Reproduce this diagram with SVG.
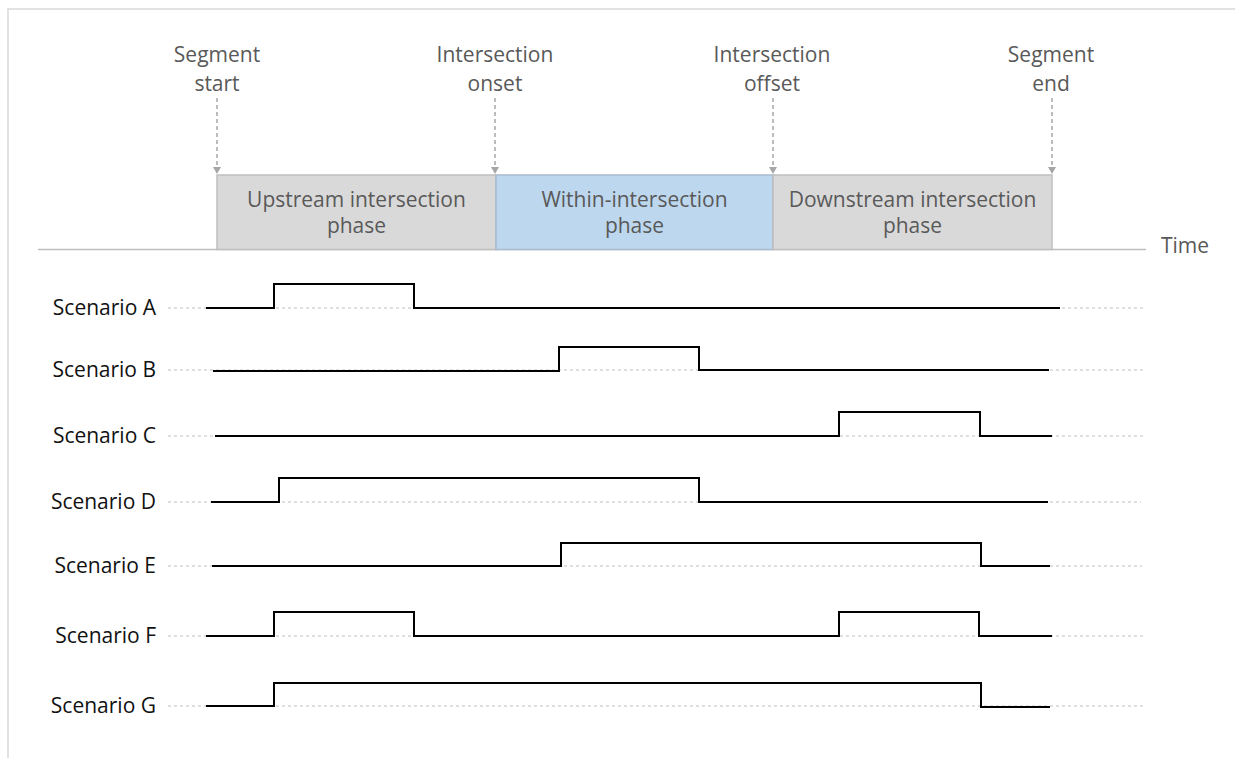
<svg xmlns="http://www.w3.org/2000/svg" width="1235" height="758" viewBox="0 0 1235 758">
<style>
  .lbl { font-family: "Open Sans", "Liberation Sans", sans-serif; font-size: 21px; fill: #595959; text-anchor: middle; }
  .scn { font-family: "Open Sans", "Liberation Sans", sans-serif; font-size: 21px; fill: #111111; text-anchor: end; }
  .box { stroke: #bfbfbf; stroke-width: 1.5; }
  .grey { fill: #d9d9d9; }
  .blue { fill: #bdd7ee; stroke: #a8bcd0; }
  .base { stroke: #bfbfbf; stroke-width: 1.2; stroke-dasharray: 3 3; fill: none; }
  .sig { stroke: #000000; stroke-width: 2; fill: none; stroke-linejoin: miter; }
  .arr { stroke: #a6a6a6; stroke-width: 1.5; stroke-dasharray: 4 3; fill: none; }
</style>
<defs>
  <marker id="tri" markerWidth="8" markerHeight="8" refX="7" refY="4" orient="auto" markerUnits="userSpaceOnUse" viewBox="0 0 8 8">
    <path d="M0,0 L7,4 L0,8 Z" fill="#a6a6a6"/>
  </marker>
</defs>
<rect x="0" y="0" width="1235" height="758" fill="#ffffff"/>
<!-- frame -->
<path d="M8,758 L8,9 L1235,9" fill="none" stroke="#d9d9d9" stroke-width="1.5"/>
<!-- time axis -->
<g id="time-axis">
  <line x1="38" y1="249.5" x2="1146" y2="249.5" stroke="#bfbfbf" stroke-width="1.5"/>
  <text class="lbl" x="1185" y="253">Time</text>
</g>
<!-- phase boxes -->
<g id="phase-upstream">
  <rect class="box grey" x="217" y="175" width="279" height="74.5"/>
  <text class="lbl" x="356.5" y="207">Upstream intersection</text>
  <text class="lbl" x="356.5" y="233">phase</text>
</g>
<g id="phase-within">
  <rect class="box blue" x="496" y="175" width="277" height="74.5"/>
  <text class="lbl" x="634.5" y="207">Within-intersection</text>
  <text class="lbl" x="634.5" y="233">phase</text>
</g>
<g id="phase-downstream">
  <rect class="box grey" x="773" y="175" width="279" height="74.5"/>
  <text class="lbl" x="912.5" y="207">Downstream intersection</text>
  <text class="lbl" x="912.5" y="233">phase</text>
</g>
<!-- event labels -->
<g id="label-segment-start">
  <text class="lbl" x="217" y="62">Segment</text>
  <text class="lbl" x="217" y="91">start</text>
</g>
<g id="label-intersection-onset">
  <text class="lbl" x="495" y="62">Intersection</text>
  <text class="lbl" x="495" y="91">onset</text>
</g>
<g id="label-intersection-offset">
  <text class="lbl" x="772" y="62">Intersection</text>
  <text class="lbl" x="772" y="91">offset</text>
</g>
<g id="label-segment-end">
  <text class="lbl" x="1051" y="62">Segment</text>
  <text class="lbl" x="1051" y="91">end</text>
</g>
<!-- connectors -->
<g id="connectors">
  <line class="arr" x1="217" y1="98" x2="217" y2="174" marker-end="url(#tri)"/>
  <line class="arr" x1="495" y1="98" x2="495" y2="174" marker-end="url(#tri)"/>
  <line class="arr" x1="773" y1="98" x2="773" y2="174" marker-end="url(#tri)"/>
  <line class="arr" x1="1052" y1="98" x2="1052" y2="174" marker-end="url(#tri)"/>
</g>
<!-- scenarios -->
<g id="scenario-a">
  <line class="base" x1="168" y1="308" x2="1144" y2="308"/>
  <text class="scn" x="156" y="315">Scenario A</text>
  <path class="sig" d="M206,308 H274 V284 H414 V308 H1060"/>
</g>
<g id="scenario-b">
  <line class="base" x1="168" y1="370" x2="1144" y2="370"/>
  <text class="scn" x="156" y="377">Scenario B</text>
  <path class="sig" d="M213,371 H559 V347 H699 V370 H1049"/>
</g>
<g id="scenario-c">
  <line class="base" x1="168" y1="436" x2="1145" y2="436"/>
  <text class="scn" x="156" y="443">Scenario C</text>
  <path class="sig" d="M215,436 H839 V412 H980 V436 H1052"/>
</g>
<g id="scenario-d">
  <line class="base" x1="168" y1="502" x2="1141" y2="502"/>
  <text class="scn" x="156" y="509">Scenario D</text>
  <path class="sig" d="M211,502 H279 V478 H699 V502 H1048"/>
</g>
<g id="scenario-e">
  <line class="base" x1="168" y1="566" x2="1142" y2="566"/>
  <text class="scn" x="156" y="573">Scenario E</text>
  <path class="sig" d="M212,566 H561 V543 H981 V566 H1050"/>
</g>
<g id="scenario-f">
  <line class="base" x1="168" y1="636" x2="1146" y2="636"/>
  <text class="scn" x="156" y="643">Scenario F</text>
  <path class="sig" d="M206,636 H274 V612 H414 V636 H839 V612 H979 V636 H1052"/>
</g>
<g id="scenario-g">
  <line class="base" x1="168" y1="706" x2="1143" y2="706"/>
  <text class="scn" x="156" y="713">Scenario G</text>
  <path class="sig" d="M206,706 H274 V683 H981 V707 H1050"/>
</g>
</svg>
